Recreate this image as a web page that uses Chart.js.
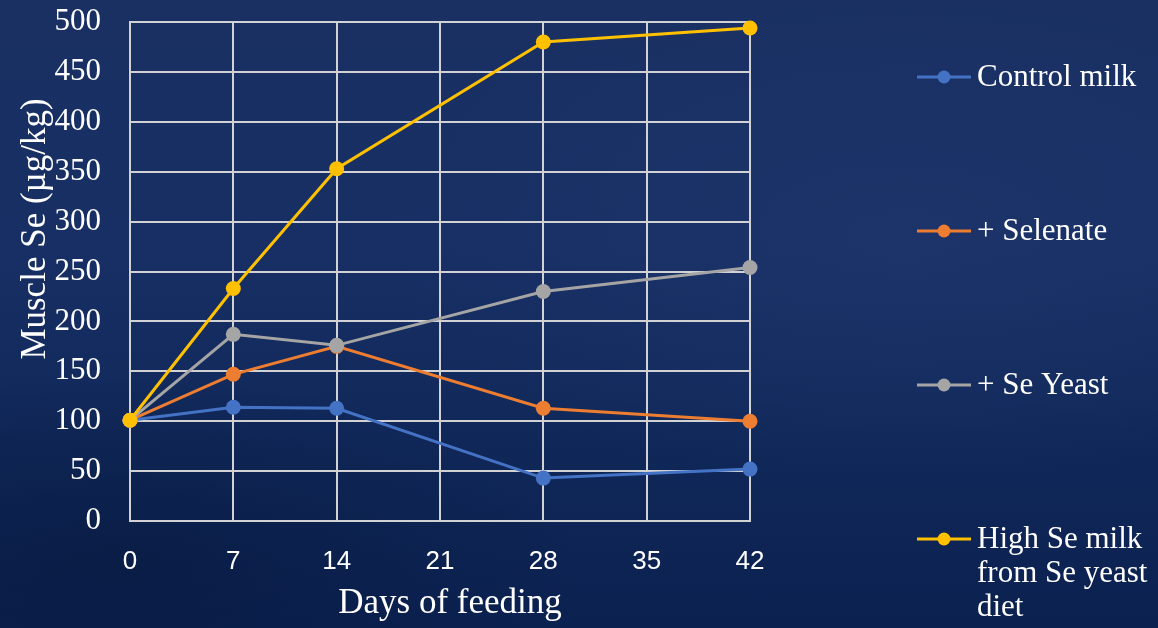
<!DOCTYPE html>
<html>
<head>
<meta charset="utf-8">
<title>Muscle Se over days of feeding</title>
<script src="https://cdn.jsdelivr.net/npm/chart.js@4/dist/chart.umd.min.js"></script>
<style>
  html, body { margin: 0; padding: 0; }
  body {
    width: 1158px; height: 628px; overflow: hidden;
    background:
      radial-gradient(ellipse 45% 40% at 78% 38%, rgba(34,58,112,0.45), rgba(34,58,112,0) 100%),
      radial-gradient(ellipse 40% 30% at 10% 90%, rgba(6,22,58,0.5), rgba(6,22,58,0) 100%),
      linear-gradient(180deg, #1a3063 0%, #172f64 40%, #102859 70%, #0b2150 100%);
  }
  #wrap { position: absolute; left: 0; top: 0; width: 1158px; height: 628px; }
</style>
</head>
<body>
<div id="wrap"><canvas id="c" width="1158" height="628"></canvas></div>
<script>
// Days of feeding (x values)
const days = [0, 7, 14, 28, 42];

// Muscle Se (µg/kg) per treatment
const controlMilk = [101, 114, 113, 43, 52];
const selenate    = [101, 147, 175, 113, 100];
const seYeast     = [101, 187, 176, 230, 254];
const highSeMilk  = [101, 233, 353, 480, 494];

const seriesNames = ['Control milk', '+ Selenate', '+ Se Yeast', 'High Se milk from Se yeast diet'];
const seriesColors = ['#4472C4', '#ED7D31', '#A5A5A5', '#FFC000'];
const seriesValues = [controlMilk, selenate, seYeast, highSeMilk];

const xTitle = 'Days of feeding';
const yTitle = 'Muscle Se (µg/kg)';

const serif = '"Liberation Serif", "Times New Roman", serif';
const sans = '"Liberation Sans", Arial, sans-serif';
const gridColor = '#d2d2d4';

const datasets = seriesValues.map((vals, i) => ({
  label: seriesNames[i],
  data: days.map((d, j) => ({ x: d, y: vals[j] })),
  borderColor: seriesColors[i],
  backgroundColor: seriesColors[i],
  pointBackgroundColor: seriesColors[i],
  pointBorderColor: seriesColors[i],
  pointRadius: 7.5,
  pointBorderWidth: 0,
  borderWidth: 3,
  tension: 0,
  clip: false,
  order: seriesValues.length - 1 - i
}));

// Legend on the right: line + dot sample followed by wrapped label text
const sideLegend = {
  id: 'sideLegend',
  afterDraw(chart) {
    const ctx = chart.ctx;
    const x0 = 917, x1 = 971, textX = 977, maxW = 178;
    const firstY = 77, step = 154, lineH = 34;
    ctx.save();
    ctx.font = '31px ' + serif;
    ctx.textBaseline = 'middle';
    ctx.textAlign = 'left';
    chart.data.datasets.forEach((ds, i) => {
      const y = firstY + i * step;
      ctx.strokeStyle = ds.borderColor;
      ctx.lineWidth = 3;
      ctx.beginPath();
      ctx.moveTo(x0, y);
      ctx.lineTo(x1, y);
      ctx.stroke();
      ctx.fillStyle = ds.borderColor;
      ctx.beginPath();
      ctx.arc((x0 + x1) / 2, y, 6.5, 0, Math.PI * 2);
      ctx.fill();
      // word wrap
      const words = ds.label.split(' ');
      const lines = [];
      let cur = '';
      words.forEach(w => {
        const test = cur ? cur + ' ' + w : w;
        if (ctx.measureText(test).width > maxW && cur) { lines.push(cur); cur = w; }
        else cur = test;
      });
      if (cur) lines.push(cur);
      ctx.fillStyle = '#ffffff';
      lines.forEach((ln, k) => ctx.fillText(ln, textX, y + k * lineH + 1));
    });
    ctx.restore();
  }
};

// Axis titles
const axisTitles = {
  id: 'axisTitles',
  afterDraw(chart) {
    const ctx = chart.ctx;
    ctx.save();
    ctx.fillStyle = '#ffffff';
    ctx.font = '35px ' + serif;
    ctx.textAlign = 'center';
    ctx.textBaseline = 'middle';
    ctx.fillText(xTitle, 450, 604);
    ctx.translate(36, 229);
    ctx.rotate(-Math.PI / 2);
    ctx.fillText(yTitle, 0, 0);
    ctx.restore();
  }
};

new Chart(document.getElementById('c'), {
  type: 'line',
  data: { datasets },
  options: {
    responsive: false,
    animation: false,
    layout: { padding: { left: 0, top: 22, right: 408, bottom: 0 } },
    plugins: { legend: { display: false }, tooltip: { enabled: false } },
    scales: {
      x: {
        type: 'linear',
        min: 0, max: 42,
        afterFit(s) { s.height = 107; s.paddingLeft = 0; s.paddingRight = 0; },
        ticks: {
          stepSize: 7,
          color: '#ffffff',
          font: { family: sans, size: 26 },
          padding: 25
        },
        grid: { color: gridColor, lineWidth: 2, drawTicks: false },
        border: { color: gridColor, width: 2 }
      },
      y: {
        min: 0, max: 500,
        afterFit(s) { s.width = 130; s.paddingTop = 0; s.paddingBottom = 0; },
        ticks: {
          stepSize: 50,
          color: '#ffffff',
          font: { family: serif, size: 31 },
          padding: 29
        },
        grid: { color: gridColor, lineWidth: 2, drawTicks: false },
        border: { color: gridColor, width: 2 }
      }
    }
  },
  plugins: [sideLegend, axisTitles]
});
</script>
</body>
</html>
